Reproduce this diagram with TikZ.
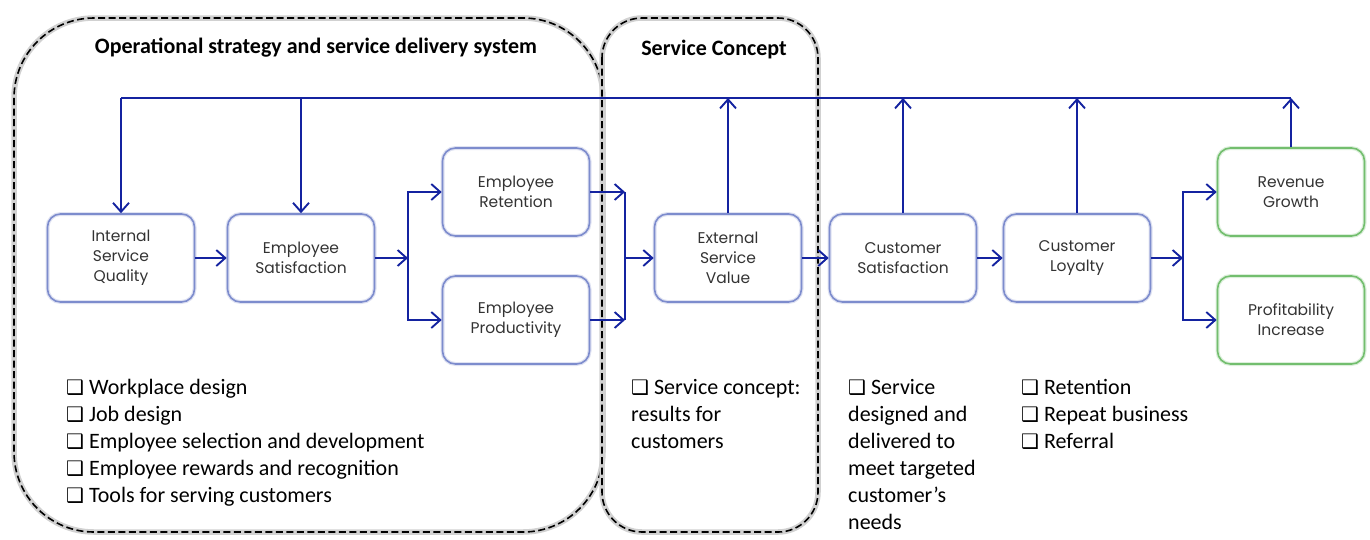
\documentclass[tikz,border=0pt]{standalone}
\usepackage{fontspec}
\setmainfont{Carlito}
\newfontfamily\boxfont{Poppins}
\newfontfamily\symfont{DejaVu Sans}
\usetikzlibrary{arrows.meta}
\definecolor{flowblue}{RGB}{20,35,160}
\definecolor{boxblue}{RGB}{125,140,205}
\definecolor{boxgreen}{RGB}{115,190,110}
\newcommand{\chk}{{\symfont\bfseries\fontsize{20}{20}\selectfont ❑}}

\begin{document}
\begin{tikzpicture}[x=1pt, y=-1pt,
  box/.style={draw=#1, line width=1.6pt, rounded corners=13pt, minimum width=147pt, minimum height=88pt,
    align=center, text=black!80, font=\boxfont\fontsize{15.5}{20}\selectfont,
    preaction={draw=#1!25, line width=4pt}},
  box/.default=boxblue,
  zone/.style={draw=black, line width=1.6pt, dash pattern=on 7pt off 3.5pt,
    preaction={draw=black!18, line width=5.5pt, solid}},
  arr/.style={draw=flowblue, line width=1.9pt, -{Straight Barb[length=9pt,width=16pt,line width=1.9pt]}},
  flow/.style={draw=flowblue, line width=1.9pt},
  title/.style={font=\bfseries\fontsize{22}{24}\selectfont},
  list/.style={anchor=north west, align=left, inner sep=0pt, font=\fontsize{22}{27}\selectfont}]
\useasboundingbox (0,0) rectangle (1370,539);

% the two dashed regions
\draw[zone, rounded corners=80pt] (14,18) rectangle (603,532);
\draw[zone, rounded corners=40pt] (602,18) rectangle (818,532);
\node[title] (opt) at (316,48) {Operational strategy and service delivery system};
\node[title] (sct) at (714,50) {Service Concept};

% chain of boxes
\node[box] (isq) at (121,258) {Internal\\Service\\Quality};
\node[box] (esat) at (301,258) {Employee\\Satisfaction};
\node[box] (eret) at (516,192) {Employee\\Retention};
\node[box] (eprod) at (516,320) {Employee\\Productivity};
\node[box] (esv) at (728,258) {External\\Service\\Value};
\node[box] (csat) at (903,258) {Customer\\Satisfaction};
\node[box] (cloy) at (1077,258) {Customer\\Loyalty};
\node[box=boxgreen] (rev) at (1291,192) {Revenue\\Growth};
\node[box=boxgreen] (prof) at (1291,320) {Profitability\\Increase};

\coordinate (j1) at (408,258);
\coordinate (j2) at (625,258);
\coordinate (j3) at (1183,258);
\coordinate (top) at (0,98);

\draw[arr] (isq) -- (esat);
\draw[arr] (esat) -- (j1);
\draw[arr] (j1) |- (eret);
\draw[arr] (j1) |- (eprod);
\draw[arr] (eret) -- (eret -| j2);
\draw[arr] (eprod) -- (eprod -| j2);
\draw[flow] (eret -| j2) -- (eprod -| j2);
\draw[arr] (j2) -- (esv);
\draw[arr] (esv) -- (csat);
\draw[arr] (csat) -- (cloy);
\draw[arr] (cloy) -- (j3);
\draw[arr] (j3) |- (rev);
\draw[arr] (j3) |- (prof);

% feedback line along the top
\draw[arr] (rev) -- (rev |- top);
\draw[flow] (rev |- top) -- (isq |- top);
\foreach \n in {isq,esat}{
\draw[arr] (\n |- top) -- (\n);
}
\foreach \n in {esv,csat,cloy}{
\draw[arr] (\n) -- (\n |- top);
}

% lists
\node[list] (lops) at (66,379) {\chk\ Workplace design\\\chk\ Job design\\\chk\ Employee selection and development\\\chk\ Employee rewards and recognition\\\chk\ Tools for serving customers};
\node[list] (lcon) at (631,379) {\chk\ Service concept:\\results for\\customers};
\node[list] (lsat) at (848,379) {\chk\ Service\\designed and\\delivered to\\meet targeted\\customer’s\\needs};
\node[list] (lloy) at (1021,379) {\chk\ Retention\\\chk\ Repeat business\\\chk\ Referral};
\end{tikzpicture}
\end{document}
